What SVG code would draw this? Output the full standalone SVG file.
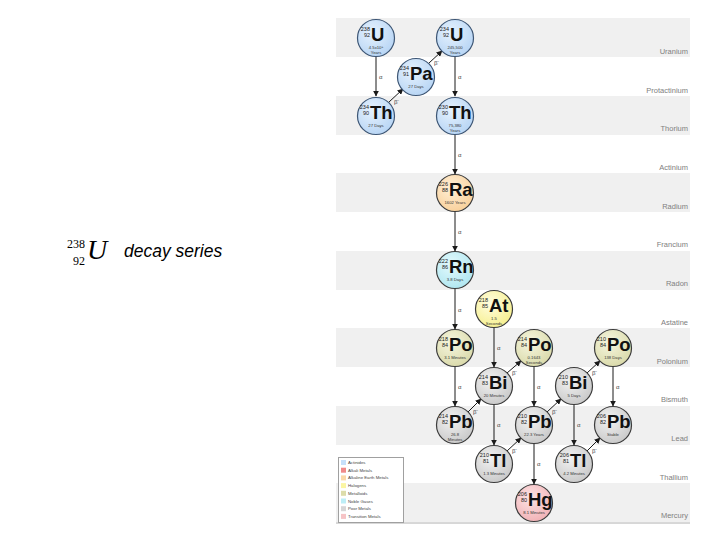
<svg xmlns="http://www.w3.org/2000/svg" width="720" height="540" viewBox="0 0 720 540">
<defs>
<style>
.band{fill:#f0f0f0}
.rowlab{font-family:"Liberation Sans",Arial,sans-serif;font-size:7.5px;fill:#808080;text-anchor:end}
.n circle{stroke:#3c3c3c;stroke-width:1.2}
.act circle{stroke:#3d5675}
.num{font-family:"Liberation Sans",Arial,sans-serif;font-size:5.5px;fill:#222;text-anchor:end}
.sym{font-family:"Liberation Sans",Arial,sans-serif;font-size:18.5px;font-weight:bold;fill:#111}
.hl{font-family:"Liberation Sans",Arial,sans-serif;font-size:4.2px;fill:#333;text-anchor:middle}
.ar{stroke:#1a1a1a;stroke-width:1;fill:none;marker-end:url(#ah)}
.al{font-family:"Liberation Sans",Arial,sans-serif;font-size:6px;fill:#444}
.lg{font-family:"Liberation Sans",Arial,sans-serif;font-size:4.3px;fill:#444}
</style>
<marker id="ah" viewBox="0 0 10 10" refX="9" refY="5" markerWidth="6" markerHeight="6" markerUnits="userSpaceOnUse" orient="auto">
<path d="M0,0 L10,5 L0,10 z" fill="#1a1a1a"/>
</marker>
<radialGradient id="gAct" cx="40%" cy="35%" r="70%"><stop offset="0" stop-color="#e6f2fe"/><stop offset="1" stop-color="#b6d4f4"/></radialGradient>
<radialGradient id="gAE" cx="40%" cy="35%" r="70%"><stop offset="0" stop-color="#fff0d8"/><stop offset="1" stop-color="#f8cf98"/></radialGradient>
<radialGradient id="gNG" cx="40%" cy="35%" r="70%"><stop offset="0" stop-color="#e4fafd"/><stop offset="1" stop-color="#aee6f0"/></radialGradient>
<radialGradient id="gHal" cx="40%" cy="35%" r="70%"><stop offset="0" stop-color="#fffde0"/><stop offset="1" stop-color="#f6ef8c"/></radialGradient>
<radialGradient id="gMet" cx="40%" cy="35%" r="70%"><stop offset="0" stop-color="#f6f6e0"/><stop offset="1" stop-color="#d9d9a8"/></radialGradient>
<radialGradient id="gPM" cx="40%" cy="35%" r="70%"><stop offset="0" stop-color="#f2f2f2"/><stop offset="1" stop-color="#c8c8c8"/></radialGradient>
<radialGradient id="gTM" cx="40%" cy="35%" r="70%"><stop offset="0" stop-color="#fde4e5"/><stop offset="1" stop-color="#f0b0b4"/></radialGradient>
</defs>
<rect width="720" height="540" fill="#fff"/>

<g id="title">
<text x="67" y="248" font-family="'Liberation Serif',serif" font-size="12">238</text>
<text x="73" y="265" font-family="'Liberation Serif',serif" font-size="12">92</text>
<text x="87" y="259" font-family="'Liberation Serif',serif" font-size="28" font-style="italic">U</text>
<text x="124" y="257" font-family="'Liberation Sans',Arial,sans-serif" font-size="17.5" font-style="italic">decay series</text>
</g>

<g id="bands">
<rect class="band" x="336" y="18" width="354" height="39"/>
<rect class="band" x="336" y="96" width="354" height="39"/>
<rect class="band" x="336" y="173" width="354" height="39"/>
<rect class="band" x="336" y="251" width="354" height="39"/>
<rect class="band" x="336" y="328" width="354" height="39"/>
<rect class="band" x="336" y="406" width="354" height="39"/>
<rect class="band" x="336" y="483" width="354" height="39"/>
<line x1="336" y1="523" x2="690" y2="523" stroke="#b0b0b0" stroke-width="1"/>
<text class="rowlab" x="688" y="54">Uranium</text>
<text class="rowlab" x="688" y="93">Protactinium</text>
<text class="rowlab" x="688" y="131">Thorium</text>
<text class="rowlab" x="688" y="170">Actinium</text>
<text class="rowlab" x="688" y="209">Radium</text>
<text class="rowlab" x="688" y="247">Francium</text>
<text class="rowlab" x="688" y="286">Radon</text>
<text class="rowlab" x="688" y="325">Astatine</text>
<text class="rowlab" x="688" y="364">Polonium</text>
<text class="rowlab" x="688" y="402">Bismuth</text>
<text class="rowlab" x="688" y="441">Lead</text>
<text class="rowlab" x="688" y="480">Thallium</text>
<text class="rowlab" x="688" y="518">Mercury</text>
</g>

<g id="connectors">
<line class="ar" x1="376" y1="57" x2="376" y2="96"/><text class="al" x="379" y="79">α</text>
<line class="ar" x1="455" y1="57" x2="455" y2="96"/><text class="al" x="458" y="79">α</text>
<line class="ar" x1="455" y1="135" x2="455" y2="174"/><text class="al" x="458" y="157">α</text>
<line class="ar" x1="455" y1="212" x2="455" y2="251"/><text class="al" x="458" y="234">α</text>
<line class="ar" x1="455" y1="289" x2="455" y2="329"/><text class="al" x="458" y="312">α</text>
<line class="ar" x1="494" y1="328" x2="494" y2="367"/><text class="al" x="497" y="350">α</text>
<line class="ar" x1="455" y1="367" x2="455" y2="406"/><text class="al" x="458" y="389">α</text>
<line class="ar" x1="534" y1="367" x2="534" y2="406"/><text class="al" x="537" y="389">α</text>
<line class="ar" x1="613" y1="367" x2="613" y2="406"/><text class="al" x="616" y="389">α</text>
<line class="ar" x1="494" y1="405" x2="494" y2="445"/><text class="al" x="497" y="427">α</text>
<line class="ar" x1="574" y1="405" x2="574" y2="445"/><text class="al" x="577" y="427">α</text>
<line class="ar" x1="534" y1="444" x2="534" y2="484"/><text class="al" x="537" y="466">α</text>

<line class="ar" x1="389" y1="102" x2="403" y2="89"/><text class="al" x="394" y="104">β⁻</text>
<line class="ar" x1="429" y1="63" x2="442" y2="51"/><text class="al" x="434" y="65">β⁻</text>
<line class="ar" x1="507" y1="373" x2="521" y2="361"/><text class="al" x="512" y="375">β⁻</text>
<line class="ar" x1="468" y1="412" x2="481" y2="399"/><text class="al" x="473" y="414">β⁻</text>
<line class="ar" x1="587" y1="373" x2="600" y2="361"/><text class="al" x="592" y="375">β⁻</text>
<line class="ar" x1="547" y1="412" x2="561" y2="399"/><text class="al" x="552" y="414">β⁻</text>
<line class="ar" x1="507" y1="451" x2="521" y2="438"/><text class="al" x="512" y="453">β⁻</text>
<line class="ar" x1="587" y1="451" x2="600" y2="438"/><text class="al" x="592" y="453">β⁻</text>
</g>

<g id="U238" class="n act"><circle cx="376" cy="38" r="18.5" fill="url(#gAct)"/>
<text class="num" x="370" y="30.5">238</text><text class="num" x="370" y="37">92</text><text class="sym" x="371" y="41">U</text>
<text class="hl" x="376" y="48.9">4.5x10⁹</text><text class="hl" x="376" y="53.7">Years</text></g>

<g id="U234" class="n act"><circle cx="455" cy="38" r="18.5" fill="url(#gAct)"/>
<text class="num" x="449" y="30.5">234</text><text class="num" x="449" y="37">92</text><text class="sym" x="450" y="41">U</text>
<text class="hl" x="455" y="48.9">245,500</text><text class="hl" x="455" y="53.7">Years</text></g>

<g id="Pa234" class="n act"><circle cx="416" cy="77" r="18.5" fill="url(#gAct)"/>
<text class="num" x="409" y="69.5">234</text><text class="num" x="409" y="76">91</text><text class="sym" x="410" y="80">Pa</text>
<text class="hl" x="416" y="88.2">27 Days</text></g>

<g id="Th234" class="n act"><circle cx="376" cy="116" r="18.5" fill="url(#gAct)"/>
<text class="num" x="369" y="108.5">234</text><text class="num" x="369" y="115">90</text><text class="sym" x="370" y="119">Th</text>
<text class="hl" x="376" y="127.2">27 Days</text></g>

<g id="Th230" class="n act"><circle cx="455" cy="116" r="18.5" fill="url(#gAct)"/>
<text class="num" x="448" y="108.5">230</text><text class="num" x="448" y="115">90</text><text class="sym" x="449" y="119">Th</text>
<text class="hl" x="455" y="126.9">75,380</text><text class="hl" x="455" y="131.7">Years</text></g>

<g id="Ra226" class="n"><circle cx="455" cy="193" r="18.5" fill="url(#gAE)"/>
<text class="num" x="448" y="185.5">226</text><text class="num" x="448" y="192">88</text><text class="sym" x="449" y="196">Ra</text>
<text class="hl" x="455" y="204.2">1602 Years</text></g>

<g id="Rn222" class="n"><circle cx="455" cy="270" r="18.5" fill="url(#gNG)"/>
<text class="num" x="448" y="262.5">222</text><text class="num" x="448" y="269">86</text><text class="sym" x="449" y="273">Rn</text>
<text class="hl" x="455" y="281.2">3.8 Days</text></g>

<g id="At218" class="n"><circle cx="494" cy="309" r="18.5" fill="url(#gHal)"/>
<text class="num" x="488" y="301.5">218</text><text class="num" x="488" y="308">85</text><text class="sym" x="489" y="312">At</text>
<text class="hl" x="494" y="319.9">1.5</text><text class="hl" x="494" y="324.7">Seconds</text></g>

<g id="Po218" class="n"><circle cx="455" cy="348" r="18.5" fill="url(#gMet)"/>
<text class="num" x="448" y="340.5">218</text><text class="num" x="448" y="347">84</text><text class="sym" x="449" y="351">Po</text>
<text class="hl" x="455" y="359.2">3.1 Minutes</text></g>

<g id="Po214" class="n"><circle cx="534" cy="348" r="18.5" fill="url(#gMet)"/>
<text class="num" x="527" y="340.5">214</text><text class="num" x="527" y="347">84</text><text class="sym" x="528" y="351">Po</text>
<text class="hl" x="534" y="358.9">0.1643</text><text class="hl" x="534" y="363.7">Seconds</text></g>

<g id="Po210" class="n"><circle cx="613" cy="348" r="18.5" fill="url(#gMet)"/>
<text class="num" x="606" y="340.5">210</text><text class="num" x="606" y="347">84</text><text class="sym" x="607" y="351">Po</text>
<text class="hl" x="613" y="359.2">138 Days</text></g>

<g id="Bi214" class="n"><circle cx="494" cy="386" r="18.5" fill="url(#gPM)"/>
<text class="num" x="488" y="378.5">214</text><text class="num" x="488" y="385">83</text><text class="sym" x="489" y="389">Bi</text>
<text class="hl" x="494" y="397.2">20 Minutes</text></g>

<g id="Bi210" class="n"><circle cx="574" cy="386" r="18.5" fill="url(#gPM)"/>
<text class="num" x="568" y="378.5">210</text><text class="num" x="568" y="385">83</text><text class="sym" x="569" y="389">Bi</text>
<text class="hl" x="574" y="397.2">5 Days</text></g>

<g id="Pb214" class="n"><circle cx="455" cy="425" r="18.5" fill="url(#gPM)"/>
<text class="num" x="448" y="417.5">214</text><text class="num" x="448" y="424">82</text><text class="sym" x="449" y="428">Pb</text>
<text class="hl" x="455" y="435.9">26.8</text><text class="hl" x="455" y="440.7">Minutes</text></g>

<g id="Pb210" class="n"><circle cx="534" cy="425" r="18.5" fill="url(#gPM)"/>
<text class="num" x="527" y="417.5">210</text><text class="num" x="527" y="424">82</text><text class="sym" x="528" y="428">Pb</text>
<text class="hl" x="534" y="436.2">22.3 Years</text></g>

<g id="Pb206" class="n"><circle cx="613" cy="425" r="18.5" fill="url(#gPM)"/>
<text class="num" x="606" y="417.5">206</text><text class="num" x="606" y="424">82</text><text class="sym" x="607" y="428">Pb</text>
<text class="hl" x="613" y="436.2">Stable</text></g>

<g id="Tl210" class="n"><circle cx="494" cy="464" r="18.5" fill="url(#gPM)"/>
<text class="num" x="489" y="456.5">210</text><text class="num" x="489" y="463">81</text><text class="sym" x="490" y="467">Tl</text>
<text class="hl" x="494" y="475.2">1.3 Minutes</text></g>

<g id="Tl206" class="n"><circle cx="574" cy="464" r="18.5" fill="url(#gPM)"/>
<text class="num" x="569" y="456.5">206</text><text class="num" x="569" y="463">81</text><text class="sym" x="570" y="467">Tl</text>
<text class="hl" x="574" y="475.2">4.2 Minutes</text></g>

<g id="Hg206" class="n"><circle cx="534" cy="503" r="18.5" fill="url(#gTM)"/>
<text class="num" x="527" y="495.5">206</text><text class="num" x="527" y="502">80</text><text class="sym" x="528" y="506">Hg</text>
<text class="hl" x="534" y="514.2">8.1 Minutes</text></g>

<g id="legend">
<rect x="338.5" y="457.5" width="65" height="65" fill="#fff" stroke="#a0a0a0" stroke-width="1"/>
<rect x="341" y="460" width="5" height="5" fill="#c6e0fa"/><text class="lg" x="348" y="464">Actinides</text>
<rect x="341" y="467.7" width="5" height="5" fill="#f08a8a"/><text class="lg" x="348" y="471.7">Alkali Metals</text>
<rect x="341" y="475.4" width="5" height="5" fill="#fbd9a9"/><text class="lg" x="348" y="479.4">Alkaline Earth Metals</text>
<rect x="341" y="483.1" width="5" height="5" fill="#fbf6a3"/><text class="lg" x="348" y="487.1">Halogens</text>
<rect x="341" y="490.8" width="5" height="5" fill="#dcdcaa"/><text class="lg" x="348" y="494.8">Metalloids</text>
<rect x="341" y="498.5" width="5" height="5" fill="#bdeef6"/><text class="lg" x="348" y="502.5">Noble Gases</text>
<rect x="341" y="506.2" width="5" height="5" fill="#d6d6d6"/><text class="lg" x="348" y="510.2">Poor Metals</text>
<rect x="341" y="513.9" width="5" height="5" fill="#f6c4c6"/><text class="lg" x="348" y="517.9">Transition Metals</text>
</g>
</svg>
